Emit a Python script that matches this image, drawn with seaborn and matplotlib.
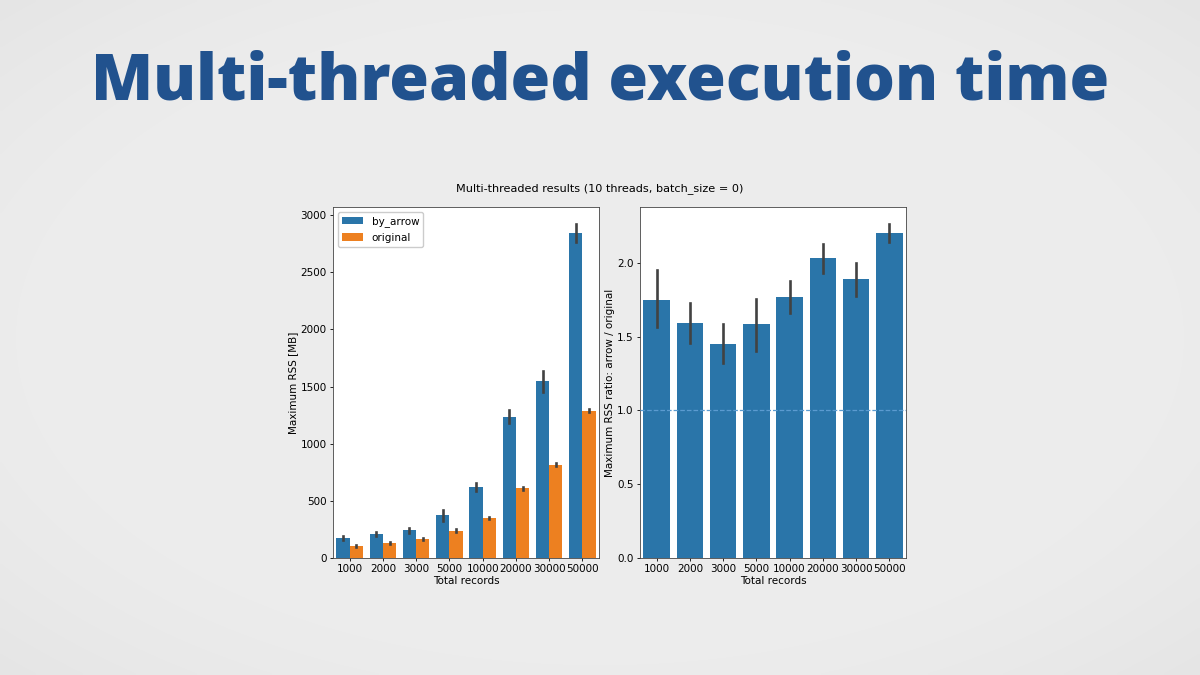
import numpy as np
import pandas as pd
import matplotlib
matplotlib.use("Agg")
import matplotlib.pyplot as plt
import seaborn as sns

# ---------------- data ----------------
records = ["1000", "2000", "3000", "5000", "10000", "20000", "30000", "50000"]

arrow_mean = [172, 207, 242, 376, 624, 1234, 1547, 2842]
arrow_lo   = [155, 190, 218, 328, 585, 1178, 1455, 2762]
arrow_hi   = [192, 228, 264, 424, 655, 1292, 1640, 2925]

orig_mean = [102, 131, 166, 239, 350, 610, 817, 1290]
orig_lo   = [93, 122, 157, 229, 342, 597, 806, 1276]
orig_hi   = [110, 140, 174, 250, 358, 621, 831, 1304]

ratio_mean = [1.747, 1.594, 1.451, 1.582, 1.770, 2.029, 1.887, 2.203]
ratio_lo   = [1.564, 1.458, 1.318, 1.402, 1.657, 1.932, 1.774, 2.142]
ratio_hi   = [1.948, 1.729, 1.587, 1.752, 1.876, 2.124, 2.000, 2.264]

series_names = ["by_arrow", "original"]

slide_title = "Multi-threaded execution time"
fig_title = "Multi-threaded results (10 threads, batch_size = 0)"

# ---------------- long-form tables ----------------
rows = []
for name, m, lo, hi in [("by_arrow", arrow_mean, arrow_lo, arrow_hi),
                        ("original", orig_mean, orig_lo, orig_hi)]:
    for r, a, b, c in zip(records, lo, m, hi):
        for v in (a, b, c):
            rows.append({"records": r, "variant": name, "rss": v})
df_rss = pd.DataFrame(rows)

rows = []
for r, a, b, c in zip(records, ratio_lo, ratio_mean, ratio_hi):
    for v in (a, b, c):
        rows.append({"records": r, "ratio": v})
df_ratio = pd.DataFrame(rows)

def span(v):
    return (np.min(v), np.max(v))

# ---------------- figure ----------------
fig = plt.figure(figsize=(12, 6.75), dpi=100)
fig.patch.set_facecolor("#e9e9e9")

# slide background (soft vignette)
bg = fig.add_axes([0, 0, 1, 1], zorder=-10)
yy, xx = np.mgrid[-1:1:200j, -1:1:360j]
rad = np.sqrt(xx**2 + yy**2)
shade = 0.925 - 0.07 * np.clip(rad - 0.85, 0, None) ** 1.5
bg.imshow(shade, cmap="gray", vmin=0, vmax=1, aspect="auto",
          extent=[0, 1, 0, 1], interpolation="bilinear")
bg.set_axis_off()

fig.text(0.5, 1 - 100 / 675, slide_title, ha="center", va="baseline",
         fontsize=46.3, fontweight="heavy", family=["Open Sans", "DejaVu Sans"],
         color="#21528e")

fs = 7.5
ax1 = fig.add_axes([0.2775, 0.1733, 0.2217, 0.52])
ax2 = fig.add_axes([0.5333, 0.1733, 0.2217, 0.52])

err_kws = {"color": ".26", "linewidth": 1.9}

sns.barplot(data=df_rss, x="records", y="rss", hue="variant", order=records,
            hue_order=series_names, palette=["#1f77b4", "#ff7f0e"],
            saturation=0.85, estimator=np.median, errorbar=span,
            err_kws=err_kws, ax=ax1)
sns.barplot(data=df_ratio, x="records", y="ratio", order=records,
            color="#1f77b4", saturation=0.85, estimator=np.median,
            errorbar=span, err_kws=err_kws, ax=ax2)
ax2.axhline(1.0, ls="--", lw=0.9, color="#5b9bd0", zorder=5)

ax1.set_ylabel("Maximum RSS [MB]", fontsize=fs, labelpad=2)
ax2.set_ylabel("Maximum RSS ratio: arrow / original", fontsize=fs, labelpad=1.5)
for ax in (ax1, ax2):
    ax.set_facecolor("white")
    ax.set_xlabel("Total records", fontsize=fs, labelpad=1)
    ax.tick_params(labelsize=fs, length=2.5, width=0.6, pad=2)
    for s in ax.spines.values():
        s.set_linewidth(0.6)
        s.set_color("#444444")

ax1.set_yticks([0, 500, 1000, 1500, 2000, 2500, 3000])
ax2.set_yticks([0.0, 0.5, 1.0, 1.5, 2.0])
ax2.set_yticklabels(["0.0", "0.5", "1.0", "1.5", "2.0"])

leg = ax1.legend(loc="upper left", fontsize=fs, title=None, framealpha=1,
                 edgecolor="#cccccc")

fig.text(0.5, 0.72, fig_title, ha="center", va="center", fontsize=8.1)

fig.savefig("out.png", dpi=100, facecolor=fig.get_facecolor())
